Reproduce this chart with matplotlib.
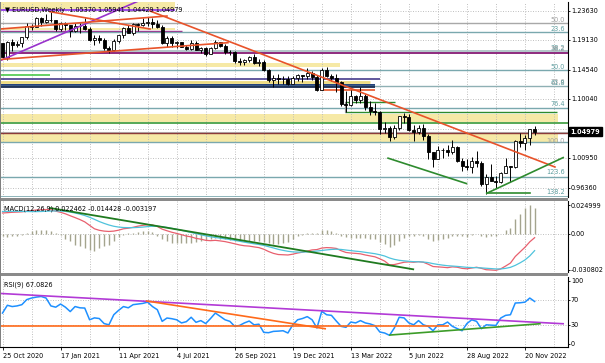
import numpy as np
import matplotlib.pyplot as plt
from matplotlib.transforms import blended_transform_factory
from matplotlib.patches import Rectangle

# ---- weekly EURUSD candles, week 0 = 25 Oct 2020 ----
opens = [1.1860, 1.1645, 1.1880, 1.1834, 1.1860, 1.1960, 1.2120, 1.2110, 1.2250, 1.2186,
         1.2215, 1.2220, 1.2075, 1.2170, 1.2137, 1.2045, 1.2120, 1.2120, 1.2075, 1.1915,
         1.1950, 1.1905, 1.1795, 1.1760, 1.1900, 1.1985, 1.2095, 1.2020, 1.2165, 1.2140,
         1.2180, 1.2190, 1.2165, 1.2105, 1.1865, 1.1935, 1.1865, 1.1875, 1.1810, 1.1770,
         1.1870, 1.1760, 1.1795, 1.1700, 1.1795, 1.1880, 1.1815, 1.1725, 1.1720, 1.1595,
         1.1570, 1.1600, 1.1645, 1.1560, 1.1567, 1.1445, 1.1290, 1.1320, 1.1315, 1.1315,
         1.1240, 1.1320, 1.1370, 1.1360, 1.1410, 1.1345, 1.1145, 1.1450, 1.1350, 1.1320,
         1.1270, 1.0930, 1.0910, 1.1050, 1.0985, 1.1045, 1.0875, 1.0810, 1.0795, 1.0545,
         1.0550, 1.0410, 1.0560, 1.0735, 1.0720, 1.0520, 1.0495, 1.0555, 1.0425, 1.0180,
         1.0080, 1.0210, 1.0220, 1.0180, 1.0260, 1.0040, 0.9965, 0.9955, 1.0040, 1.0015,
         0.9690, 0.9800, 0.9740, 0.9720, 0.9860, 0.9965, 0.9960, 1.0355, 1.0325, 1.0400,
         1.05370]
highs = [1.1870, 1.1891, 1.1920, 1.1893, 1.1964, 1.2177, 1.2164, 1.2273, 1.2272, 1.2310,
         1.2349, 1.2222, 1.2190, 1.2190, 1.2150, 1.2170, 1.2170, 1.2243, 1.2113, 1.1990,
         1.1989, 1.1945, 1.1820, 1.1927, 1.1994, 1.2117, 1.2150, 1.2171, 1.2181, 1.2245,
         1.2265, 1.2254, 1.2218, 1.2145, 1.1975, 1.1975, 1.1895, 1.1880, 1.1833, 1.1908,
         1.1900, 1.1800, 1.1804, 1.1800, 1.1909, 1.1885, 1.1845, 1.1751, 1.1735, 1.1640,
         1.1624, 1.1670, 1.1692, 1.1616, 1.1610, 1.1464, 1.1374, 1.1383, 1.1355, 1.1360,
         1.1360, 1.1386, 1.1370, 1.1482, 1.1437, 1.1370, 1.1483, 1.1495, 1.1395, 1.1390,
         1.1280, 1.1120, 1.1137, 1.1070, 1.1185, 1.1076, 1.0970, 1.0937, 1.0810, 1.0642,
         1.0594, 1.0600, 1.0745, 1.0787, 1.0773, 1.0601, 1.0606, 1.0615, 1.0464, 1.0187,
         1.0278, 1.0254, 1.0293, 1.0368, 1.0275, 1.0090, 1.0079, 1.0114, 1.0198, 1.0050,
         0.9853, 0.9999, 0.9809, 0.9873, 1.0094, 0.9976, 1.0364, 1.0480, 1.0449, 1.0544,
         1.05941]
lows = [1.1640, 1.1603, 1.1745, 1.1800, 1.1802, 1.1925, 1.2059, 1.2105, 1.2130, 1.2176,
        1.2190, 1.2055, 1.2053, 1.2058, 1.1952, 1.2040, 1.2023, 1.2069, 1.1893, 1.1836,
        1.1873, 1.1762, 1.1704, 1.1738, 1.1868, 1.1944, 1.2020, 1.1986, 1.2051, 1.2130,
        1.2133, 1.2103, 1.2094, 1.1845, 1.1803, 1.1807, 1.1782, 1.1796, 1.1752, 1.1755,
        1.1760, 1.1705, 1.1664, 1.1700, 1.1770, 1.1800, 1.1700, 1.1684, 1.1563, 1.1529,
        1.1524, 1.1570, 1.1535, 1.1513, 1.1433, 1.1263, 1.1186, 1.1235, 1.1227, 1.1222,
        1.1235, 1.1280, 1.1272, 1.1315, 1.1300, 1.1121, 1.1135, 1.1340, 1.1280, 1.1106,
        1.0889, 1.0806, 1.0900, 1.0945, 1.0945, 1.0837, 1.0757, 1.0755, 1.0470, 1.0485,
        1.0350, 1.0390, 1.0530, 1.0627, 1.0515, 1.0358, 1.0470, 1.0365, 1.0072, 0.9952,
        1.0076, 1.0100, 1.0123, 1.0160, 1.0034, 0.9900, 0.9910, 0.9864, 0.9955, 0.9668,
        0.9536, 0.9740, 0.9632, 0.9705, 0.9860, 0.9730, 0.9935, 1.0270, 1.0222, 1.0290,
        1.04429]
closes = [1.1647, 1.1876, 1.1834, 1.1857, 1.1960, 1.2120, 1.2110, 1.2255, 1.2186, 1.2215,
          1.2220, 1.2075, 1.2170, 1.2137, 1.2045, 1.2120, 1.2120, 1.2075, 1.1915, 1.1950,
          1.1905, 1.1795, 1.1760, 1.1900, 1.1985, 1.2095, 1.2020, 1.2165, 1.2140, 1.2180,
          1.2190, 1.2165, 1.2105, 1.1865, 1.1935, 1.1865, 1.1875, 1.1810, 1.1770, 1.1870,
          1.1760, 1.1795, 1.1700, 1.1795, 1.1880, 1.1815, 1.1725, 1.1720, 1.1595, 1.1570,
          1.1600, 1.1645, 1.1560, 1.1567, 1.1445, 1.1290, 1.1320, 1.1315, 1.1315, 1.1240,
          1.1320, 1.1370, 1.1360, 1.1410, 1.1345, 1.1145, 1.1450, 1.1350, 1.1320, 1.1270,
          1.0930, 1.0910, 1.1050, 1.0985, 1.1045, 1.0875, 1.0810, 1.0795, 1.0545, 1.0550,
          1.0410, 1.0560, 1.0735, 1.0720, 1.0520, 1.0495, 1.0555, 1.0425, 1.0180, 1.0080,
          1.0210, 1.0220, 1.0180, 1.0260, 1.0040, 0.9965, 0.9955, 1.0040, 1.0015, 0.9690,
          0.9800, 0.9740, 0.9720, 0.9860, 0.9965, 0.9960, 1.0355, 1.0325, 1.0400, 1.0535,
          1.04979]

# ---- MACD(12,26,9) ----
macd_hist = [-0.0020, -0.0025, -0.0020, -0.0015, -0.0008, 0.0010, 0.0030, 0.0038, 0.0038, 0.0035,
             0.0025, 0.0005, -0.0010, -0.0040, -0.0064, -0.0092, -0.0107, -0.0121, -0.0136, -0.0145,
             -0.0125, -0.0107, -0.0092, -0.0064, -0.0029, -0.0010, 0.0005, 0.0010, 0.0018, 0.0023,
             0.0022, 0.0015, -0.0020, -0.0045, -0.0065, -0.0075, -0.0080, -0.0082, -0.0080, -0.0075,
             -0.0068, -0.0060, -0.0052, -0.0040, -0.0035, -0.0040, -0.0045, -0.0050, -0.0058, -0.0062,
             -0.0062, -0.0060, -0.0058, -0.0060, -0.0068, -0.0082, -0.0090, -0.0090, -0.0082, -0.0070,
             -0.0045, -0.0018, -0.0005, 0.0008, 0.0010, 0.0008, 0.0035, 0.0038, 0.0025, 0.0012,
             -0.0015, -0.0030, -0.0035, -0.0035, -0.0032, -0.0038, -0.0040, -0.0042, -0.0070, -0.0090,
             -0.0115, -0.0095, -0.0060, -0.0035, -0.0020, -0.0020, -0.0010, -0.0015, -0.0040, -0.0062,
             -0.0055, -0.0045, -0.0035, -0.0020, -0.0015, -0.0018, -0.0025, -0.0012, 0.0001, -0.0015,
             -0.0022, -0.0020, -0.0018, 0.0000, 0.0038, 0.0052, 0.0133, 0.0173, 0.0225, 0.0249,
             0.022462]
macd_main = [0.0182, 0.0185, 0.0188, 0.0190, 0.0192, 0.0198, 0.0203, 0.0208, 0.0210, 0.0212,
             0.0210, 0.0198, 0.0188, 0.0175, 0.0158, 0.0142, 0.0125, 0.0105, 0.0075, 0.0045,
             0.0032, 0.0025, 0.0022, 0.0025, 0.0033, 0.0045, 0.0050, 0.0058, 0.0068, 0.0075,
             0.0080, 0.0078, 0.0065, 0.0042, 0.0028, 0.0015, 0.0005, -0.0006, -0.0018, -0.0025,
             -0.0038, -0.0045, -0.0055, -0.0058, -0.0055, -0.0060, -0.0066, -0.0075, -0.0085, -0.0095,
             -0.0102, -0.0105, -0.0112, -0.0118, -0.0132, -0.0152, -0.0168, -0.0178, -0.0180, -0.0182,
             -0.0175, -0.0165, -0.0158, -0.0148, -0.0138, -0.0135, -0.0122, -0.0118, -0.0120, -0.0125,
             -0.0145, -0.0160, -0.0165, -0.0168, -0.0172, -0.0182, -0.0190, -0.0198, -0.0215, -0.0235,
             -0.0268, -0.0265, -0.0255, -0.0245, -0.0242, -0.0245, -0.0240, -0.0245, -0.0262, -0.0282,
             -0.0285, -0.0288, -0.0292, -0.0285, -0.0288, -0.0298, -0.0302, -0.0295, -0.0288, -0.0298,
             -0.0310, -0.0312, -0.0315, -0.0302, -0.0278, -0.0252, -0.0195, -0.0155, -0.0115, -0.0068,
             -0.003197]
macd_signal = [0.0195, 0.0196, 0.0197, 0.0197, 0.0196, 0.0195, 0.0194, 0.0194, 0.0195, 0.0197,
               0.0199, 0.0200, 0.0199, 0.0196, 0.0190, 0.0182, 0.0172, 0.0160, 0.0145, 0.0127,
               0.0108, 0.0092, 0.0078, 0.0067, 0.0060, 0.0056, 0.0055, 0.0055, 0.0057, 0.0060,
               0.0064, 0.0067, 0.0067, 0.0063, 0.0057, 0.0049, 0.0041, 0.0032, 0.0022, 0.0013,
               0.0003, -0.0007, -0.0016, -0.0024, -0.0030, -0.0036, -0.0042, -0.0048, -0.0055, -0.0063,
               -0.0071, -0.0078, -0.0085, -0.0091, -0.0099, -0.0110, -0.0121, -0.0133, -0.0142, -0.0150,
               -0.0155, -0.0157, -0.0157, -0.0155, -0.0152, -0.0148, -0.0143, -0.0138, -0.0134, -0.0132,
               -0.0134, -0.0139, -0.0144, -0.0149, -0.0153, -0.0159, -0.0165, -0.0171, -0.0180, -0.0191,
               -0.0208, -0.0220, -0.0228, -0.0233, -0.0237, -0.0240, -0.0241, -0.0243, -0.0248, -0.0257,
               -0.0264, -0.0270, -0.0275, -0.0278, -0.0281, -0.0285, -0.0289, -0.0291, -0.0292, -0.0294,
               -0.0297, -0.0300, -0.0303, -0.0303, -0.0298, -0.0289, -0.0272, -0.0250, -0.0225, -0.0190,
               -0.014428]

# ---- RSI(9) ----
rsi = [48.7, 61, 59, 60, 62, 70, 72.5, 74, 75, 72.5,
       60, 58, 63, 58, 51, 59, 57, 56.6, 38, 41,
       40, 32, 30, 46, 53, 59, 57, 62, 63, 64,
       66, 59, 54, 35.5, 40.8, 39.7, 38, 33, 35, 42,
       34, 36.7, 32, 40, 48.7, 43.4, 38, 35.5, 27.6, 29,
       33, 36, 30, 31, 18, 17.5, 19.6, 20, 20.6, 17,
       30, 38, 40, 43, 38, 25, 51.4, 46, 45, 36,
       27.6, 26, 34.4, 33, 36.7, 33, 31.4, 28.6, 18.6, 17,
       13.3, 25, 42, 41, 33, 30, 36.7, 30, 27.6, 20.6,
       30, 30, 34.4, 27.6, 24, 20.6, 32, 38, 35.5, 23.8,
       30, 29.5, 29, 40.8, 45, 46, 64.6, 65, 66, 72.5,
       67.0826]

date_labels = ['25 Oct 2020', '17 Jan 2021', '11 Apr 2021', '4 Jul 2021', '26 Sep 2021',
               '19 Dec 2021', '13 Mar 2022', '5 Jun 2022', '28 Aug 2022', '20 Nov 2022']
date_weeks = [0, 12, 24, 36, 48, 60, 72, 84, 96, 108]
grid_weeks = list(range(0, 115, 6))

price_ticks = [1.23630, 1.19130, 1.14540, 1.10040, 1.05450, 1.00950, 0.96360]
price_tick_labels = ['1.23630', '1.19130', '1.14540', '1.10040', '', '1.00950', '0.96360']
macd_ticks = [0.024999, 0.0, -0.030802]
macd_tick_labels = ['0.024999', '0.00', '-0.030802']
rsi_ticks = [100, 70, 30, 0]

# drawn objects on the price chart: (price, colour, width, week from, week to)
h_levels = [
    (1.2374, '#8a2be2', 1.2, -0.6, 35.7),
    (1.2169, '#a8a8a8', 1.0, -0.6, 117),
    (1.2050, '#a0288c', 1.0, -0.6, 37.1),
    (1.2030, '#7aa8ae', 1.0, -0.6, 117),
    (1.1747, '#a6bcc0', 1.2, -0.6, 117),
    (1.1707, '#8e2a7e', 1.4, -0.6, 117),
    (1.1449, '#7aa8ae', 1.0, -0.6, 117),
    (1.1372, '#4cc84c', 1.2, -0.6, 9.8),
    (1.1306, '#463c8c', 1.2, -0.6, 78.0),
    (1.1265, '#eedc82', 2.0, -0.6, 76.0),
    (1.1214, '#20407a', 1.4, -0.6, 77.0),
    (1.1200, '#8fb0b4', 1.0, -0.6, 117),
    (1.1180, '#0a1e46', 1.2, -0.6, 77.0),
    (1.1141, '#e8562a', 1.2, 65.6, 77.0),
    (1.0956, '#2e8b2e', 1.0, 70.8, 81.1),
    (1.0859, '#7aa8ae', 1.0, -0.6, 117),
    (1.0807, '#2e8b2e', 1.0, 70.8, 114.6),
    (1.0637, '#3a9a3a', 1.2, -0.6, 117),
    (1.04979, '#b8b8b8', 0.8, -0.6, 117),
    (1.0475, '#8b3a3a', 1.0, -0.6, 117),
    (1.0335, '#7aa8ae', 1.0, -0.6, 117),
    (0.9806, '#7aa8ae', 1.0, -0.6, 117),
    (0.9493, '#7aa8ae', 1.2, -0.6, 117),
]
# yellow zones: (price low, price high, week from, week to)
zones = [
    (1.2389, 1.2497, -0.6, 35.7),
    (1.2058, 1.2100, -0.6, 35.7),
    (1.1503, 1.1557, -0.6, 69.8),
    (1.0648, 1.0771, -0.6, 114.8),
    (1.0340, 1.0463, -0.6, 114.8),
]
# fibo labels: (text, price, colour)
fib_labels = [
    ('50.0', 1.2222, '#a0a0a0'), ('23.6', 1.2085, '#5f9ea0'),
    ('38.2', 1.1795, '#5f9ea0'), ('38.2', 1.1780, '#a0a0a0'),
    ('50.0', 1.1500, '#5f9ea0'), ('23.6', 1.1262, '#a0a0a0'),
    ('61.8', 1.1247, '#5f9ea0'), ('76.4', 1.0926, '#5f9ea0'),
    ('100.0', 1.0354, '#a0a0a0'), ('123.6', 0.9875, '#5f9ea0'),
    ('138.2', 0.9567, '#5f9ea0'),
]
# trend lines: ((w0, w1), (v0, v1), colour)
price_trends = [
    ((-0.2, 30.9), (1.1603, 1.2602), '#9932cc'),
    ((-0.5, 34.0), (1.2081, 1.2281), '#e8532a'),
    ((9.8, 30.5), (1.2348, 1.2081), '#e8532a'),
    ((30.5, 114.2), (1.2358, 0.9955), '#e8532a'),
    ((-0.5, 46.6), (1.1611, 1.1870), '#e8532a'),
    ((79.7, 95.9), (1.0091, 0.9700), '#2e8b2e'),
    ((100.1, 115.9), (0.9550, 1.0100), '#2e8b2e'),
    ((100.1, 109.0), (0.9550, 0.9550), '#2e8b2e'),
]
macd_trend = ((9.8, 84.9), (0.02254, -0.0306))
rsi_trends = [
    ((-0.5, 115.9), (79.8, 31.7), '#b23ad6'),
    ((-0.5, 92.1), (28.6, 28.6), '#ff6a1a'),
    ((29.8, 66.7), (67.8, 23.8), '#ff6a1a'),
    ((80.1, 111.1), (13.8, 31.7), '#3c9c28'),
]

W, H = 605, 363
FS = 4.7
fig = plt.figure(figsize=(W / 100, H / 100), dpi=100)
fig.patch.set_facecolor('white')


def panel(y0, y1):
    a = fig.add_axes([0, 1 - y1 / H, 568 / W, (y1 - y0) / H])
    a.set_xlim(-0.52, 116.9)
    for s in ('top', 'bottom', 'left'):
        a.spines[s].set_visible(False)
    a.spines['right'].set_color('black')
    a.spines['right'].set_linewidth(0.8)
    a.yaxis.tick_right()
    a.tick_params(axis='y', labelsize=FS, length=1.5, width=0.6, pad=0.6, colors='black')
    a.tick_params(axis='x', bottom=False, labelbottom=False)
    for g in grid_weeks:
        a.axvline(g, color='#b8b8b8', lw=0.6, ls=(0, (1.2, 1.8)), zorder=1.5)
    return a


grid_kw = dict(color='#b8b8b8', lw=0.6, ls=(0, (1.2, 1.8)), zorder=1.5)

# ---------- price panel ----------
ax = panel(2, 197)
ax.set_ylim(0.94926, 1.24970)
ax.set_yticks(price_ticks)
ax.set_yticklabels(price_tick_labels)
for p in price_ticks:
    ax.axhline(p, **grid_kw)
for lo, hi, w0, w1 in zones:
    ax.fill_between([w0, w1], lo, hi, color='#f6e9a6', lw=0, zorder=1)
for p, c, lw, w0, w1 in h_levels:
    ax.plot([w0, w1], [p, p], color=c, lw=lw, zorder=2, solid_capstyle='butt')
ax.plot([70.8, 70.8], [1.0807, 1.0956], color='#909090', lw=0.8, zorder=2)

wk = np.arange(len(closes))
o = np.array(opens)
c = np.array(closes)
ax.vlines(wk, lows, highs, color='black', lw=0.7, zorder=4)
body_lo = np.minimum(o, c)
body_h = np.maximum(np.abs(c - o), 0.0003)
ax.bar(wk, body_h, bottom=body_lo, width=0.62,
       color=['white' if cc >= oo else 'black' for oo, cc in zip(o, c)],
       edgecolor='black', linewidth=0.6, zorder=5)

for (w0, w1), (v0, v1), col in price_trends:
    ax.plot([w0, w1], [v0, v1], color=col, lw=1.2, zorder=6)

tr = blended_transform_factory(ax.transAxes, ax.transData)
for t, p, col in fib_labels:
    ax.text(565 / 568, p, t, transform=tr, ha='right', va='center', fontsize=FS, color=col, zorder=7)
ax.text(1.004, 1.04979, '1.04979', transform=tr, ha='left', va='center', fontsize=FS,
        color='white', fontweight='bold', zorder=10, clip_on=False,
        bbox=dict(boxstyle='square,pad=0.25', facecolor='black', edgecolor='black'))
ax.text(5 / 568, 0.975, '\u25bc EURUSD,Weekly  1.05370 1.05941 1.04429 1.04979', transform=ax.transAxes,
        ha='left', va='top', fontsize=FS, color='black', zorder=8)

# ---------- MACD panel ----------
axm = panel(201, 272)
axm.set_ylim(-0.03295, 0.0286)
axm.set_yticks(macd_ticks)
axm.set_yticklabels(macd_tick_labels)
axm.axhline(0, **grid_kw)
axm.vlines(wk, 0, macd_hist, color='#a4a48e', lw=1.0, zorder=3)
axm.plot(wk, macd_main, color='#e8606e', lw=0.9, zorder=4)
axm.plot(wk, macd_signal, color='#4fc3dc', lw=0.9, zorder=4)
axm.plot(*macd_trend, color='#1f7a1f', lw=1.3, zorder=5)
axm.text(4 / 568, 0.93, 'MACD(12,26,9) 0.022462 -0.014428 -0.003197', transform=axm.transAxes,
         ha='left', va='top', fontsize=FS, color='black', zorder=8)

# ---------- RSI panel ----------
axr = panel(277, 347)
axr.set_ylim(-5.2, 105.9)
axr.set_yticks(rsi_ticks)
axr.set_yticklabels([str(v) for v in rsi_ticks])
for lv in (70, 30):
    axr.axhline(lv, **grid_kw)
axr.plot(wk, rsi, color='#1e90ff', lw=1.1, zorder=4)
for (w0, w1), (v0, v1), col in rsi_trends:
    axr.plot([w0, w1], [v0, v1], color=col, lw=1.2, zorder=5)
axr.text(4 / 568, 0.93, 'RSI(9) 67.0826', transform=axr.transAxes,
         ha='left', va='top', fontsize=FS, color='black', zorder=8)
axr.spines['bottom'].set_visible(True)
axr.spines['bottom'].set_color('black')
axr.spines['bottom'].set_linewidth(0.8)
axr.tick_params(axis='x', bottom=True, labelbottom=True, labelsize=FS, length=2.2, width=0.6, pad=1.8)
axr.set_xticks(date_weeks)
axr.set_xticklabels(date_labels, ha='left')

# panel separators and left border
for y0, y1 in ((197.5, 200.5), (272.5, 276.0)):
    fig.add_artist(Rectangle((0, 1 - y1 / H), 568 / W, (y1 - y0) / H, transform=fig.transFigure,
                             facecolor='#8a8a8a', edgecolor='none'))
fig.add_artist(Rectangle((0, 1 - 347 / H), 1.2 / W, 345 / H, transform=fig.transFigure,
                         facecolor='#808080', edgecolor='none'))

fig.savefig('out.png', dpi=100)
